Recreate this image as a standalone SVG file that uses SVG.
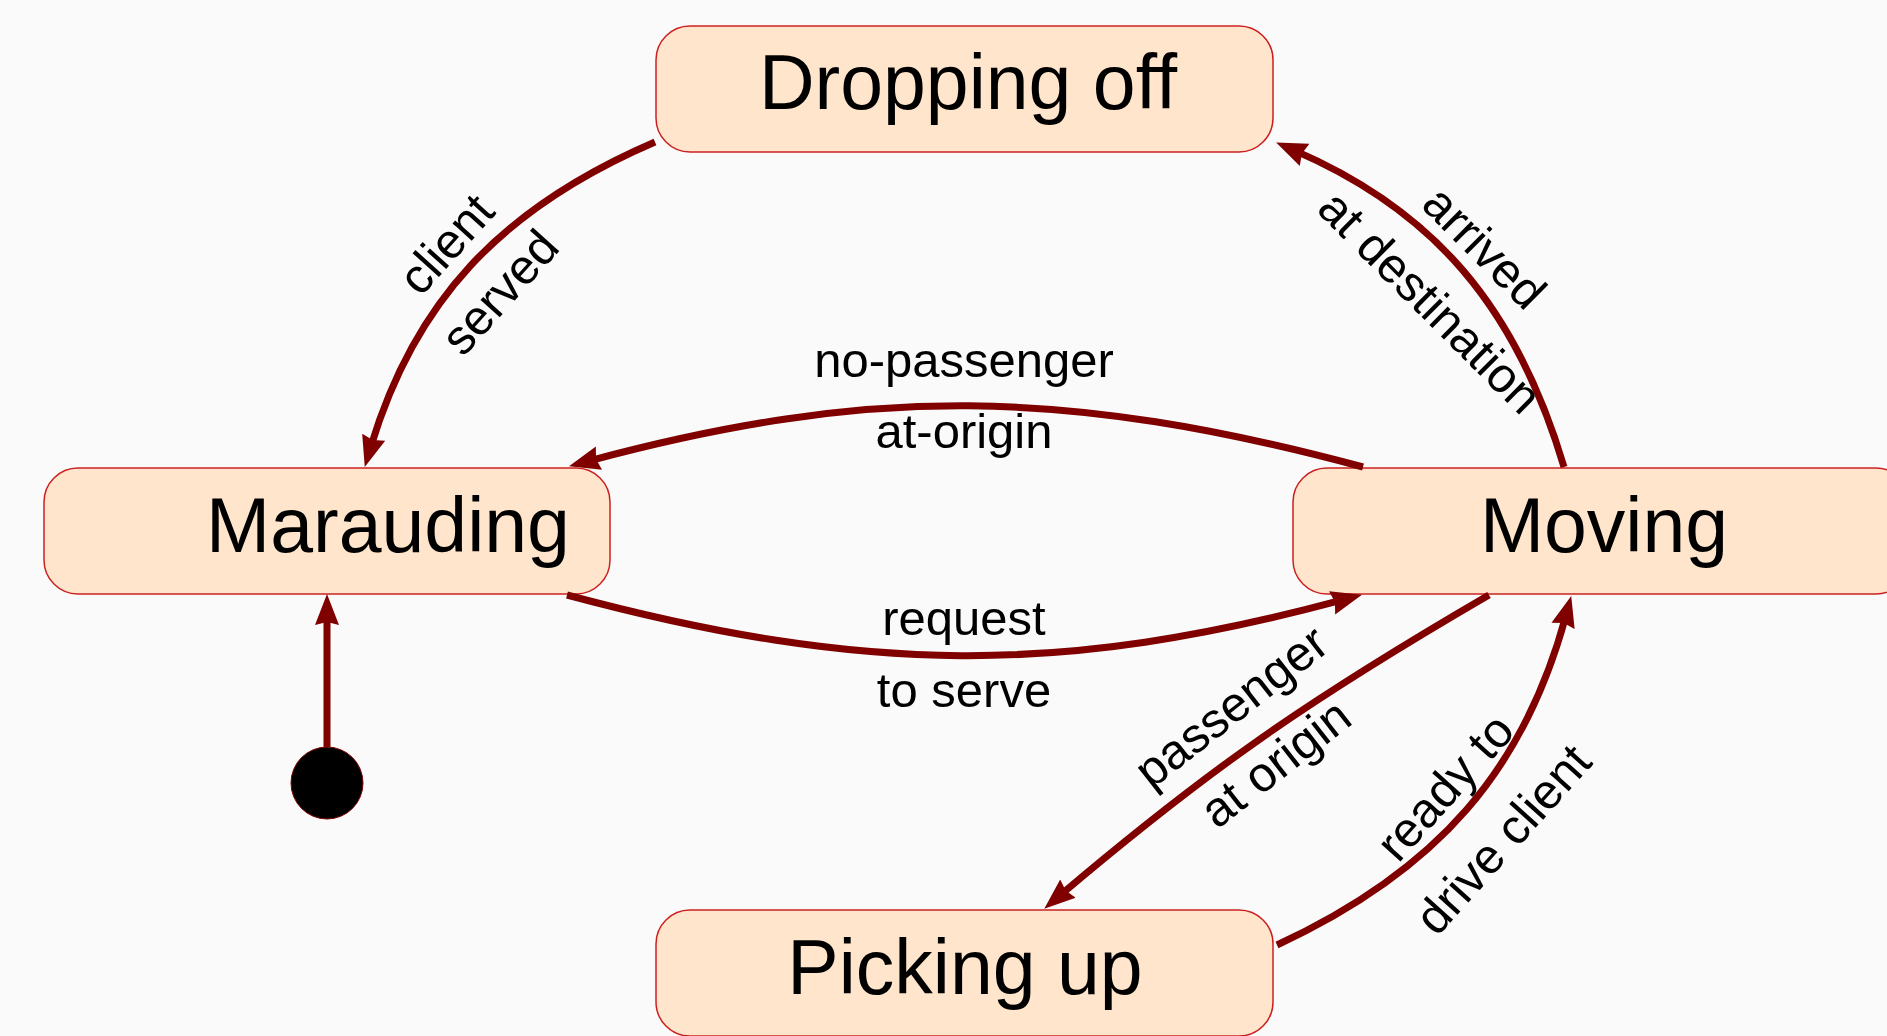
<svg xmlns="http://www.w3.org/2000/svg" width="1887" height="1036" viewBox="0 0 1887 1036">
  <style>
    .state rect { fill: #FFE5CC; stroke: #CC2020; stroke-width: 1.5; }
    .state text { font-family: "Liberation Sans", Arial, sans-serif; font-size: 77px; fill: #000; text-anchor: middle; }
    .edge { fill: none; stroke: #800000; stroke-width: 7; marker-end: url(#head); }
    .lbl { font-family: "Liberation Sans", Arial, sans-serif; font-size: 49px; fill: #000; text-anchor: middle; }
  </style>
  <defs>
    <marker id="head" markerUnits="userSpaceOnUse" viewBox="0 -13 33 26" markerWidth="33" markerHeight="26" refX="10" refY="0" orient="auto">
      <path d="M31,0 L0,-12 L3,0 L0,12 Z" fill="#800000"/>
    </marker>
  </defs>

  <rect width="1887" height="1036" fill="#FAFAFA"/>

  <!-- states -->
  <g id="dropping-off" class="state">
    <rect x="656" y="26" width="617" height="126" rx="34" ry="34"/>
    <text x="968" y="109">Dropping off</text>
  </g>
  <g id="marauding" class="state">
    <rect x="44" y="468" width="566" height="126" rx="34" ry="34"/>
    <text x="388" y="552">Marauding</text>
  </g>
  <g id="moving" class="state">
    <rect x="1293" y="468" width="617" height="126" rx="34" ry="34"/>
    <text x="1604" y="552">Moving</text>
  </g>
  <g id="picking-up" class="state">
    <rect x="656" y="910" width="617" height="126" rx="34" ry="34"/>
    <text x="965" y="994">Picking up</text>
  </g>
  <g id="initial">
    <circle cx="327" cy="783" r="36" fill="#000" stroke="#800000" stroke-width="1"/>
  </g>

  <!-- transitions -->
  <g id="connectors">
    <path class="edge" d="M655,142 C499,209 414,303 370.8,446.8"/>
    <path class="edge" d="M1564,467 C1516,305 1432,210 1295.4,150.9"/>
    <path class="edge" d="M1363,467 C1065,387 868,386 589.3,460.8"/>
    <path class="edge" d="M567,595 C865,675 1063,675 1341.7,600.2"/>
    <path class="edge" d="M1489,595 C1305,702 1208,770 1060.3,895.1"/>
    <path class="edge" d="M1277,945 C1439,870 1524,769 1565.7,616.3"/>
    <path class="edge" d="M327,747 L327,615"/>
  </g>

  <!-- transition labels -->
  <g id="labels">
    <g transform="translate(475,270) rotate(-48)">
      <text class="lbl" y="-22">client</text>
      <text class="lbl" y="50">served</text>
    </g>
    <g transform="translate(1455,277) rotate(45)">
      <text class="lbl" y="-25">arrived</text>
      <text class="lbl" y="52">at destination</text>
    </g>
    <text class="lbl" x="964" y="377">no-passenger</text>
    <text class="lbl" x="964" y="448">at-origin</text>
    <text class="lbl" x="964" y="635">request</text>
    <text class="lbl" x="964" y="707">to serve</text>
    <g transform="translate(1255,737) rotate(-38)">
      <text class="lbl" y="-22">passenger</text>
      <text class="lbl" y="50">at origin</text>
    </g>
    <g transform="translate(1476,815) rotate(-48)">
      <text class="lbl" y="-25">ready to</text>
      <text class="lbl" y="53">drive client</text>
    </g>
  </g>
</svg>
